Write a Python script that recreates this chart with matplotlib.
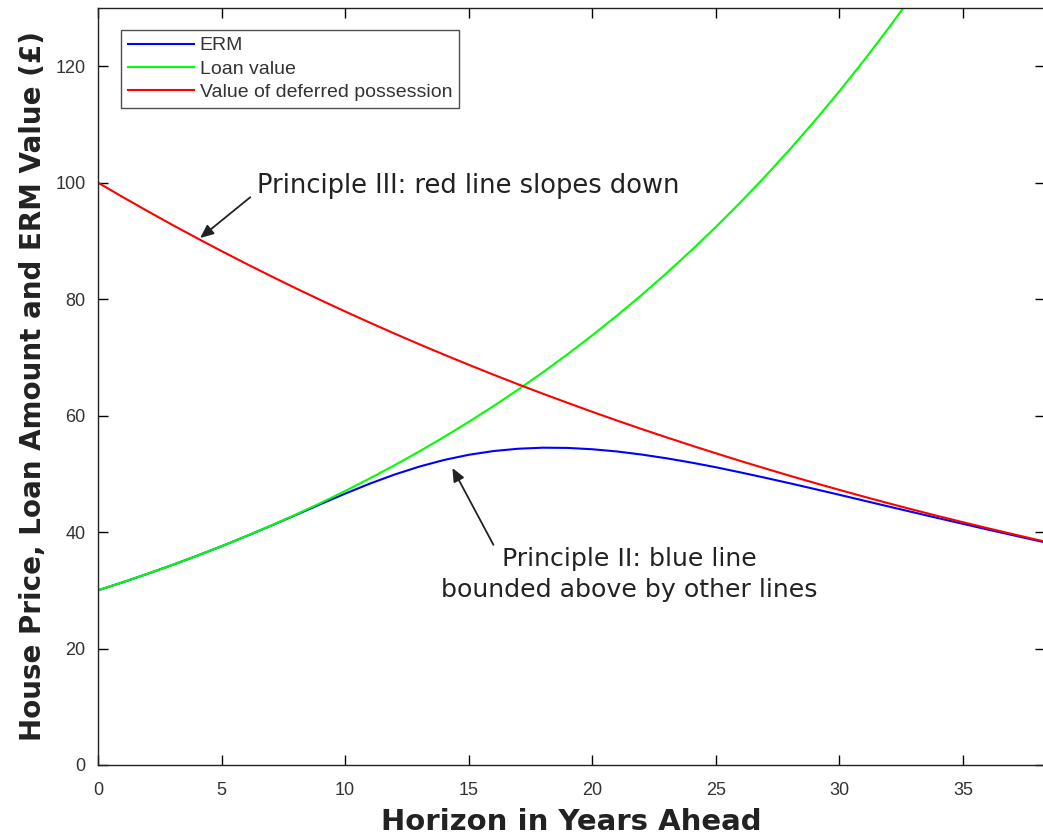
import matplotlib
matplotlib.use("Agg")
import matplotlib.pyplot as plt

# Horizon in years
years = [0, 1, 2, 3, 4, 5, 6, 7, 8, 9, 10, 11, 12, 13, 14, 15, 16, 17, 18, 19,
         20, 21, 22, 23, 24, 25, 26, 27, 28, 29, 30, 31, 32, 33, 34, 35, 36, 37,
         38, 38.3]

# Value of deferred possession (house price discounted)
deferred = [100.0, 97.53, 95.12, 92.77, 90.48, 88.25, 86.07, 83.95, 81.87, 79.85,
            77.88, 75.96, 74.08, 72.25, 70.47, 68.73, 67.03, 65.37, 63.76, 62.19,
            60.65, 59.15, 57.69, 56.27, 54.88, 53.53, 52.20, 50.92, 49.66, 48.43,
            47.24, 46.07, 44.93, 43.82, 42.74, 41.69, 40.66, 39.66, 38.67, 38.39]

# Loan value (rolled-up loan amount)
loan_years = [0, 1, 2, 3, 4, 5, 6, 7, 8, 9, 10, 11, 12, 13, 14, 15, 16, 17, 18,
              19, 20, 21, 22, 23, 24, 25, 26, 27, 28, 29, 30, 31, 32, 33, 34]
loan = [30.0, 31.38, 32.83, 34.34, 35.92, 37.57, 39.30, 41.11, 43.00, 44.98,
        47.05, 49.22, 51.48, 53.85, 56.33, 58.92, 61.63, 64.47, 67.44, 70.54,
        73.79, 77.18, 80.73, 84.45, 88.34, 92.40, 96.65, 101.10, 105.75, 110.62,
        115.71, 121.04, 126.61, 132.44, 138.54]

# ERM value
erm = [30.0, 31.38, 32.83, 34.34, 35.92, 37.57, 39.30, 41.09, 42.93, 44.79,
       46.60, 48.32, 49.88, 51.24, 52.38, 53.27, 53.91, 54.31, 54.49, 54.45,
       54.22, 53.84, 53.31, 52.67, 51.94, 51.13, 50.24, 49.32, 48.37, 47.39,
       46.40, 45.39, 44.38, 43.38, 42.39, 41.41, 40.43, 39.48, 38.53, 38.25]

x_ticks = [0, 5, 10, 15, 20, 25, 30, 35]
y_ticks = [0, 20, 40, 60, 80, 100, 120]

fig = plt.figure(figsize=(10.43, 8.4), dpi=100)
ax = fig.add_axes([0.094, 0.0893, 0.9075, 0.9012])

ax.plot(years, erm, color=(0, 0, 1), lw=1.5, label="ERM")
ax.plot(loan_years, loan, color=(0, 1, 0), lw=1.5, label="Loan value")
ax.plot(years, deferred, color=(1, 0, 0), lw=1.5, label="Value of deferred possession")

ax.set_xlim(0, 38.3)
ax.set_ylim(0, 130)
ax.set_xticks(x_ticks)
ax.set_yticks(y_ticks)
ax.tick_params(direction="in", top=True, right=True, length=7, width=1.0,
               labelsize=13, labelcolor="#333333")
ax.tick_params(axis="x", pad=12)
ax.tick_params(axis="y", pad=9)
for lab in ax.get_xticklabels() + ax.get_yticklabels():
    lab.set_family("Liberation Sans")
for sp in ax.spines.values():
    sp.set_linewidth(1.0)
    sp.set_color("#222222")

ax.set_xlabel("Horizon in Years Ahead", fontsize=21, fontweight="bold",
              color="#222222", labelpad=7)
ax.set_ylabel("House Price, Loan Amount and ERM Value (\u00a3)", fontsize=20,
              fontweight="bold", color="#222222", labelpad=6)

leg = ax.legend(loc="upper left", bbox_to_anchor=(0.0243, 0.971),
                frameon=True, fancybox=False, edgecolor="#222222",
                borderpad=0.35, labelspacing=0.3, handlelength=3.4,
                handletextpad=0.3, borderaxespad=0,
                prop={"family": "Liberation Sans", "size": 14})
leg.get_frame().set_linewidth(1.0)
for t in leg.get_texts():
    t.set_color("#333333")

arrow = dict(arrowstyle="-|>,head_length=0.8,head_width=0.35", color="#222222",
             lw=1.3, shrinkA=0, shrinkB=0)
ax.annotate("", xy=(4.13, 90.5), xytext=(6.16, 97.5), arrowprops=arrow)
ax.text(6.45, 99.5, "Principle III: red line slopes down", fontsize=18.5,
        color="#222222", ha="left", va="center")

ax.annotate("", xy=(14.34, 51.0), xytext=(16.0, 37.8), arrowprops=arrow)
ax.text(21.5, 32.7, "Principle II: blue line\nbounded above by other lines",
        fontsize=18.2, color="#222222", ha="center", va="center", linespacing=1.4)

fig.savefig("out.png", dpi=100)
